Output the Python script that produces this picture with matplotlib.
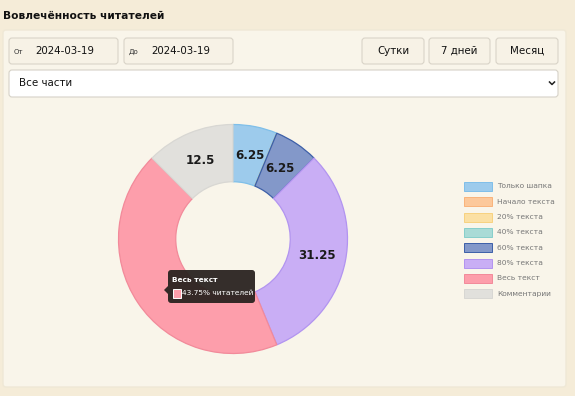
import matplotlib
matplotlib.use("Agg")
import matplotlib.pyplot as plt
from matplotlib.patches import FancyBboxPatch, Rectangle, Polygon
import numpy as np

plt.rcParams['font.family'] = ['DejaVu Sans']

title = "Вовлечённость читателей"
categories = ["Только шапка", "Начало текста", "20% текста", "40% текста",
              "60% текста", "80% текста", "Весь текст", "Комментарии"]
values = [6.25, 0, 0, 0, 6.25, 31.25, 43.75, 12.5]
fill_colors = ["#9dcbec", "#fcc89a", "#fbe0a4", "#a9dbd6",
               "#8398c9", "#c9aef5", "#fd9eab", "#e1e0dc"]
edge_colors = ["#7fbfe9", "#f9b37a", "#f7d27f", "#86cfcb",
               "#3d5fa8", "#b294f0", "#f28a9a", "#d8d7d3"]
hidden_label = "Весь текст"
date_from = "2024-03-19"
date_to = "2024-03-19"
buttons = ["Сутки", "7 дней", "Месяц"]
select_text = "Все части"
tooltip_suffix = "% читателей"

W, H = 575, 396
fig = plt.figure(figsize=(W / 100, H / 100), dpi=100)
fig.patch.set_facecolor("#f5ecd8")

def overlay():
    a = fig.add_axes([0, 0, 1, 1])
    a.set_xlim(0, W)
    a.set_ylim(H, 0)
    a.axis("off")
    a.patch.set_visible(False)
    return a

bg = overlay()

# title
bg.text(3, 16, title, fontsize=7.7, fontweight="bold", color="#111111", va="center", ha="left")

# panel
bg.add_patch(FancyBboxPatch((3, 30), 563, 357, boxstyle="round,pad=0,rounding_size=3",
                            facecolor="#f9f5ea", edgecolor="#efe8d6", linewidth=1))

def box(x, y, w, h, fc="#f7f2e6", ec="#d9d4c8"):
    bg.add_patch(FancyBboxPatch((x, y), w, h, boxstyle="round,pad=0,rounding_size=3",
                                facecolor=fc, edgecolor=ec, linewidth=0.8))

# date inputs
box(9, 38, 109, 26)
box(124, 38, 109, 26)
bg.text(14, 51.5, "От", fontsize=5, color="#333333", va="center")
bg.text(35, 51, date_from, fontsize=7.4, color="#111111", va="center")
bg.text(129, 51.5, "До", fontsize=5, color="#333333", va="center")
bg.text(151, 51, date_to, fontsize=7.4, color="#111111", va="center")

# buttons
btn_x = [(362, 62), (429, 61), (496, 62)]
for (bx, bw), lab in zip(btn_x, buttons):
    box(bx, 38, bw, 26)
    bg.text(bx + bw / 2, 51, lab, fontsize=7.4, color="#111111", va="center", ha="center")

# select
box(9, 70, 549, 27, fc="#ffffff", ec="#d6d2c8")
bg.text(19, 83.5, select_text, fontsize=7.4, color="#111111", va="center")
bg.plot([549.5, 552, 554.5], [82, 84.5, 82], color="#222222", lw=1.1)

# donut
cx, cy, R = 233, 239, 114.5
ax = fig.add_axes([(cx - R) / W, (H - cy - R) / H, 2 * R / W, 2 * R / H])
ax.set_facecolor("none")
wedges, _ = ax.pie(values, colors=fill_colors, startangle=90, counterclock=False,
                   radius=1.0, wedgeprops=dict(width=0.5, linewidth=0.9))
for w_, ec in zip(wedges, edge_colors):
    w_.set_edgecolor(ec)
ax.set_xlim(-1, 1)
ax.set_ylim(-1, 1)
ax.axis("off")

for w_, v, lab in zip(wedges, values, categories):
    if v <= 0 or lab == hidden_label:
        continue
    ang = np.deg2rad((w_.theta1 + w_.theta2) / 2)
    r = 0.745
    txt = f"{v:g}"
    ax.text(r * np.cos(ang), r * np.sin(ang), txt, ha="center", va="center",
            fontsize=8.6, fontweight="bold", color="#1a1a1a")

# legend
ly0 = 186.5
for i, (lab, fc, ec) in enumerate(zip(categories, fill_colors, edge_colors)):
    y = ly0 + i * 15.3
    bg.add_patch(Rectangle((464, y - 4.5), 28, 9, facecolor=fc, edgecolor=ec, linewidth=0.7))
    bg.text(497, y, lab, fontsize=5.4, color="#777777", va="center", ha="left")

# tooltip (on top of the donut)
top = overlay()
idx = categories.index(hidden_label)
tx, ty, tw, th = 168, 270, 87, 33
top.add_patch(FancyBboxPatch((tx, ty), tw, th, boxstyle="round,pad=0,rounding_size=3",
                             facecolor="#2a2320", edgecolor="none", alpha=0.95))
top.add_patch(Polygon([[tx, 286], [tx - 4, 290], [tx, 294]], closed=True,
                      facecolor="#2a2320", edgecolor="none", alpha=0.95))
top.text(172, 279.5, categories[idx], fontsize=5.3, fontweight="bold", color="white", va="center")
top.add_patch(Rectangle((172.5, 288.5), 8, 9, facecolor=fill_colors[idx], edgecolor="white", linewidth=0.7))
top.text(182, 293, f"{values[idx]:g}{tooltip_suffix}", fontsize=5.3, color="white", va="center")

fig.savefig("out.png", dpi=100, facecolor=fig.get_facecolor())
